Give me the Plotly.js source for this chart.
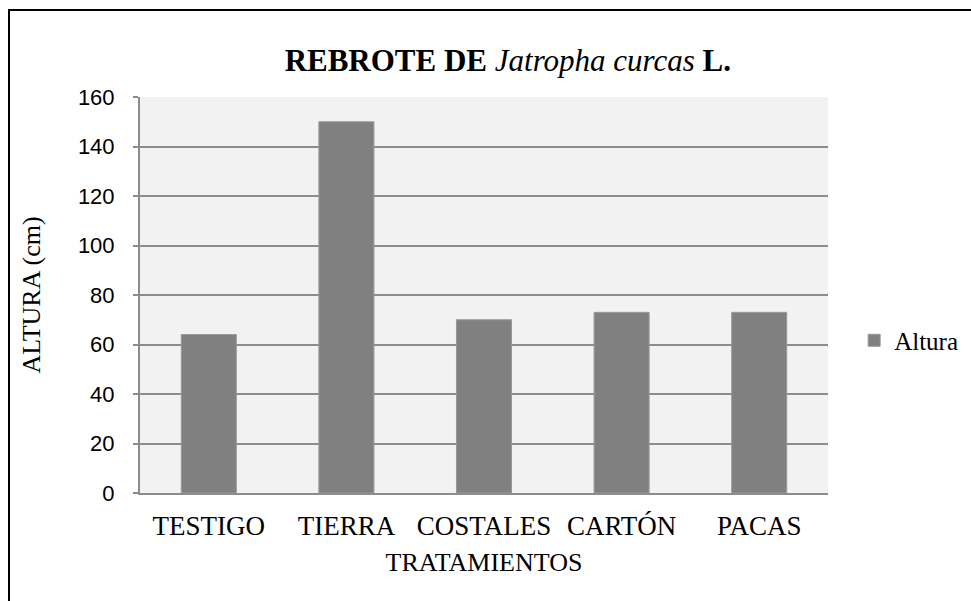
<!DOCTYPE html>
<html><head><meta charset="utf-8">
<script src="https://cdn.plot.ly/plotly-3.0.1.min.js"></script>
<style>
html,body{margin:0;padding:0;background:#fff;}
#frame{position:absolute;left:8px;top:9px;width:963px;height:592px;border-left:2px solid #000;border-top:2px solid #000;box-sizing:border-box;pointer-events:none;z-index:10;}
#chart{width:971px;height:601px;}
</style></head><body>
<div id="frame"></div>
<div id="chart"></div>
<script>
const categories = ["TESTIGO", "TIERRA", "COSTALES", "CARTÓN", "PACAS"];
const altura = [64, 150, 70, 73, 73];
const seriesName = "Altura";

const trace = {
  type: "bar", x: categories, y: altura, name: seriesName,
  marker: {color: "#808080", line: {color: "#999999", width: 1}},
  showlegend: true
};
const serif = "Liberation Serif";
const layout = {
  width: 971, height: 601,
  margin: {l: 140, r: 143, t: 97, b: 108, autoexpand: false},
  paper_bgcolor: "#ffffff", plot_bgcolor: "#f2f2f2",
  bargap: 0.6,
  title: {text: "<b>REBROTE DE </b><i>Jatropha curcas</i><b> L.</b>",
    font: {family: serif, size: 31, color: "#000"}, x: 0.523, xanchor: "center", y: 0.9, yanchor: "middle"},
  xaxis: {
    title: {text: "TRATAMIENTOS", font: {family: serif, size: 26, color: "#000"}, standoff: 12},
    tickfont: {family: serif, size: 27, color: "#000"},
    showline: true, linecolor: "#8c8c8c", linewidth: 2, ticks: "", ticklabelstandoff: 8,
    showgrid: false
  },
  yaxis: {
    title: {text: "ALTURA (cm)", font: {family: serif, size: 26, color: "#000"}, standoff: 30},
    tickfont: {family: "Liberation Sans", size: 22, color: "#000"},
    range: [0, 160], dtick: 20, tick0: 0,
    showline: true, linecolor: "#8c8c8c", linewidth: 2,
    ticks: "outside", ticklen: 5, tickcolor: "#8c8c8c", tickwidth: 2,
    ticklabelstandoff: 14,
    showgrid: true, gridcolor: "#8c8c8c", gridwidth: 2, zeroline: false
  },
  legend: {x: 1.038, y: 0.385, xanchor: "left", yanchor: "middle", itemwidth: 30,
    font: {family: serif, size: 25, color: "#000"}, bgcolor: "rgba(0,0,0,0)"}
};
Plotly.newPlot("chart", [trace], layout, {displayModeBar: false});
</script>
</body></html>
